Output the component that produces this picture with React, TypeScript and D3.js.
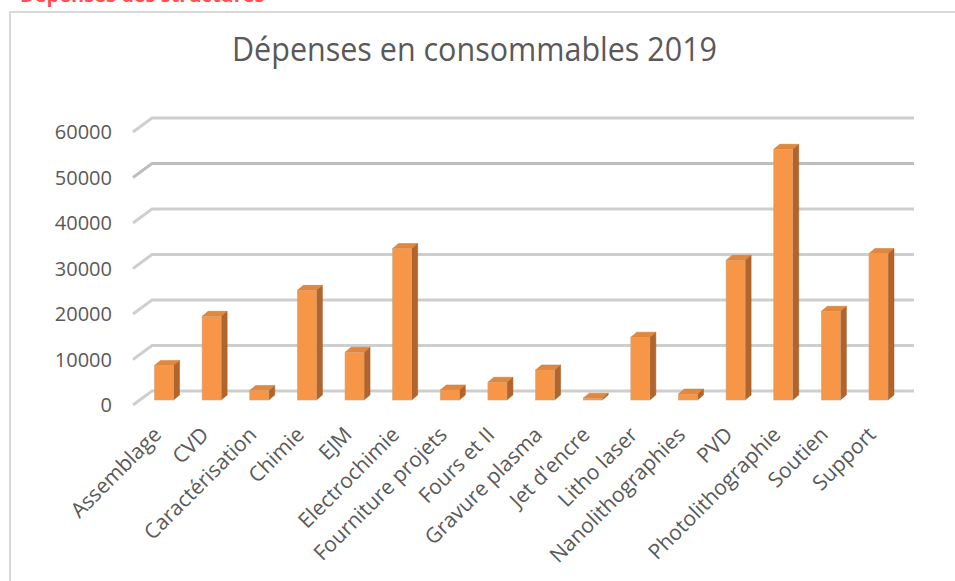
import React from "react";
import * as d3 from "d3";

const categories = [
  "Assemblage",
  "CVD",
  "Caractérisation",
  "Chimie",
  "EJM",
  "Electrochimie",
  "Fourniture projets",
  "Fours et II",
  "Gravure plasma",
  "Jet d'encre",
  "Litho laser",
  "Nanolithographies",
  "PVD",
  "Photolithographie",
  "Soutien",
  "Support",
];
const values = [
  7600, 18400, 2100, 24100, 10500, 33300, 2200, 3900, 6600, 400, 13800, 1300,
  30700, 55100, 19500, 32200,
];
const yTicks = [0, 10000, 20000, 30000, 40000, 50000, 60000];
const title = "Dépenses en consommables 2019";
const topText = "Dépenses des structures";

const W = 955;
const H = 581;
const FONT = "'Open Sans', 'Noto Sans', sans-serif";

export default function App() {
  const x = d3.scalePoint<string>().domain(categories).range([164, 878.5]);
  const yFront = d3.scaleLinear().domain([0, 60000]).range([400, 127]);
  const yBack = d3.scaleLinear().domain([0, 60000]).range([391, 118]);
  const bw = 19;
  const ddx = 6;
  const ddy = 5;
  const gridLeft = 133;
  const backLeft = 152;
  const gridRight = 914;
  const diagDy = yFront(0) - yBack(0) + 5;

  return (
    <svg
      width={W}
      height={H}
      viewBox={`0 0 ${W} ${H}`}
      style={{ position: "absolute", left: 0, top: 0, background: "#fff" }}
    >
      <text
        x={20}
        y={1.5}
        fontFamily={FONT}
        fontSize={20}
        fontWeight={700}
        fill="#ff5050"
      >
        {topText}
      </text>
      <rect
        x={10}
        y={12}
        width={960}
        height={600}
        fill="#fff"
        stroke="#d9d9d9"
        strokeWidth={2}
      />
      <text
        x={474.5}
        y={61}
        textAnchor="middle"
        fontFamily={FONT}
        fontSize={32}
        fill="#595959"
        textLength={485}
        lengthAdjust="spacingAndGlyphs"
      >
        {title}
      </text>

      {yTicks.map((t) => {
        const yb = yBack(t);
        return (
          <g key={t}>
            <path
              d={`M${gridLeft},${yb + diagDy} L${backLeft},${yb} L${gridRight},${yb}`}
              fill="none"
              stroke={t === 50000 ? "#bdbdbd" : "#cecece"}
              strokeWidth={2.8}
              strokeLinejoin="round"
            />
            <text
              x={112}
              y={yb + diagDy}
              dy="0.36em"
              textAnchor="end"
              fontFamily={FONT}
              fontSize={20}
              fill="#595959"
            >
              {t}
            </text>
          </g>
        );
      })}

      {categories.map((c, i) => {
        const cx = x(c)!;
        const x0 = cx - bw / 2;
        const x1 = cx + bw / 2;
        const yb = yFront(0);
        const yt = yFront(values[i]);
        return (
          <g key={c}>
            <path
              d={`M${x1},${yb} L${x1 + ddx},${yb - ddy} L${x1 + ddx},${yt - ddy} L${x1},${yt} Z`}
              fill="#b1652c"
              stroke="#9c5a28"
              strokeWidth={0.5}
            />
            <path
              d={`M${x0},${yt} L${x0 + ddx},${yt - ddy} L${x1 + ddx},${yt - ddy} L${x1},${yt} Z`}
              fill="#e2873b"
              stroke="#c7782f"
              strokeWidth={0.5}
            />
            <rect
              x={x0}
              y={yt}
              width={bw}
              height={yb - yt}
              fill="#f79646"
              stroke="#d7a37a"
              strokeWidth={0.6}
            />
          </g>
        );
      })}

      {categories.map((c) => {
        const cx = x(c)!;
        const lx = cx - 1.5;
        const ly = 436;
        return (
          <text
            key={c}
            x={lx}
            y={ly}
            textAnchor="end"
            transform={`rotate(-45 ${lx} ${ly})`}
            fontFamily={FONT}
            fontSize={21}
            fill="#595959"
          >
            {c}
          </text>
        );
      })}
    </svg>
  );
}
